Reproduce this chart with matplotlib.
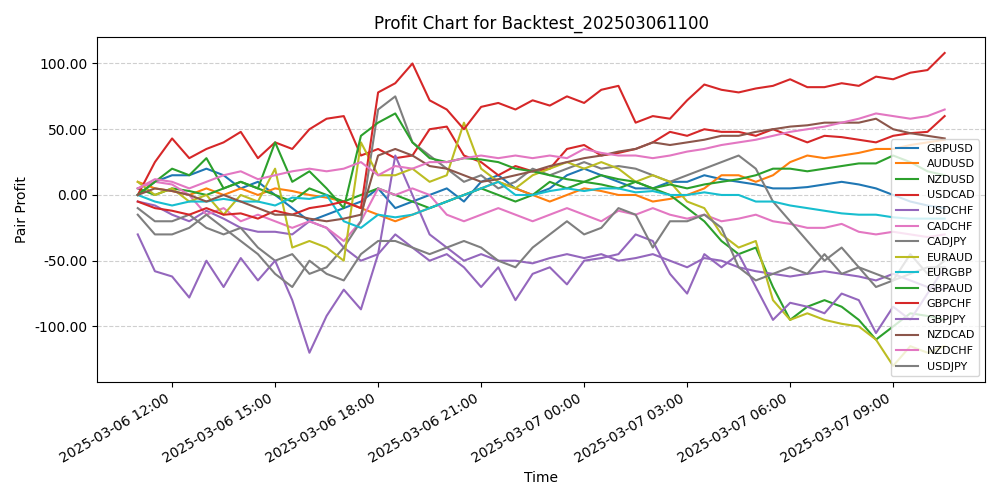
import pandas as pd
import matplotlib
matplotlib.use("Agg")
import matplotlib.pyplot as plt
import matplotlib.dates as mdates
from matplotlib.ticker import FormatStrFormatter

times = pd.date_range("2025-03-06 11:00", periods=48, freq="30min")

GBPUSD = [0,10,15,15,20,15,5,10,0,-10,-20,-15,-10,-5,5,-10,-5,0,5,-5,10,15,5,0,5,15,20,15,10,5,5,10,10,15,12,10,8,5,5,6,8,10,8,5,0,-5,-8,-10]
AUDUSD = [10,5,3,0,5,0,5,0,5,3,0,-2,-5,-10,-15,-20,-15,-10,-5,0,5,10,5,0,-5,0,5,3,0,0,-5,-3,0,5,15,15,10,15,25,30,28,30,32,35,35,38,40,42]
NZDUSD = [5,0,5,3,0,5,10,5,0,-5,5,0,-5,0,5,0,-5,-10,-5,0,5,0,-5,0,10,5,10,8,5,10,5,0,-10,-20,-35,-45,-40,-70,-95,-85,-80,-85,-95,-110,-100,-90,-92,-95]
USDCAD = [0,25,43,28,35,40,48,28,40,35,50,58,60,30,35,28,30,50,52,30,25,15,22,18,20,35,38,30,32,35,40,48,45,50,48,48,45,50,45,40,45,44,42,40,45,47,48,60]
USDCHF = [-5,-8,-15,-20,-12,-18,-25,-28,-28,-30,-20,-25,-40,-50,-45,30,0,-30,-40,-50,-45,-50,-50,-52,-48,-45,-48,-45,-50,-48,-45,-50,-55,-48,-50,-55,-58,-60,-62,-60,-58,-60,-62,-65,-60,-65,-70,-72]
CADCHF = [5,10,8,0,-15,-10,-20,-15,-20,-25,-20,-25,-35,-20,5,0,5,0,-15,-20,-15,-10,-15,-20,-15,-10,-15,-20,-12,-15,-10,-15,-18,-15,-20,-18,-15,-20,-22,-25,-25,-22,-28,-30,-28,-30,-32,-30]
CADJPY = [-10,-20,-20,-15,-25,-30,-25,-40,-50,-45,-60,-55,-40,-20,65,75,40,30,20,10,15,5,10,20,15,20,25,20,22,20,15,10,15,20,25,30,20,-5,-20,-35,-50,-40,-55,-60,-65,-45,-60,-50]
EURAUD = [10,0,5,-5,0,-15,0,-5,20,-40,-35,-40,-50,40,15,15,20,10,15,55,20,10,5,15,20,25,20,25,20,10,15,10,-5,-10,-30,-40,-35,-80,-95,-90,-95,-98,-100,-110,-130,-115,-120,-115]
EURGBP = [0,-5,-8,-5,-5,-3,-5,-5,-8,-2,-3,0,-20,-25,-15,-17,-15,-10,-5,0,5,10,0,0,3,5,3,5,5,2,3,0,0,2,0,0,-5,-5,-8,-10,-12,-14,-15,-15,-17,-18,-18,-18]
GBPAUD = [0,10,20,15,28,5,10,5,40,10,18,5,-10,45,55,62,40,28,25,28,27,25,20,18,15,12,10,15,12,10,5,8,5,8,10,12,15,20,20,18,20,22,24,24,30,25,18,15]
GBPCHF = [-5,-10,-12,-15,-10,-15,-14,-18,-12,-15,-10,-8,-5,-10,78,85,100,72,65,50,67,70,65,72,68,75,70,80,83,55,60,58,72,84,80,78,81,83,88,82,82,85,83,90,88,93,95,108]
GBPJPY = [-30,-58,-62,-78,-50,-70,-48,-65,-50,-80,-120,-92,-72,-87,-45,-30,-40,-50,-45,-55,-70,-55,-80,-60,-55,-68,-50,-48,-45,-30,-35,-60,-75,-45,-55,-45,-70,-95,-82,-85,-90,-75,-80,-105,-85,-95,-75,-55]
NZDCAD = [0,5,3,0,-5,0,-5,-10,-15,-15,-18,-20,-18,-15,30,35,30,22,20,15,10,12,15,18,22,25,28,30,33,35,40,38,40,42,45,45,48,50,52,53,55,55,55,58,50,47,45,43]
NZDCHF = [5,12,10,5,10,15,18,12,15,18,20,18,20,25,15,22,20,25,25,28,30,28,30,28,30,28,35,32,30,30,28,30,33,35,38,40,42,45,48,50,52,55,58,62,60,58,60,65]
USDJPY = [-15,-30,-30,-25,-15,-25,-35,-45,-60,-70,-50,-60,-65,-45,-35,-35,-40,-45,-40,-35,-40,-50,-55,-40,-30,-20,-30,-25,-10,-15,-40,-20,-20,-15,-25,-55,-65,-60,-55,-60,-45,-60,-55,-70,-65,-60,-55,-55]

pairs = ["GBPUSD", "AUDUSD", "NZDUSD", "USDCAD", "USDCHF", "CADCHF", "CADJPY", "EURAUD",
         "EURGBP", "GBPAUD", "GBPCHF", "GBPJPY", "NZDCAD", "NZDCHF", "USDJPY"]
series = [GBPUSD, AUDUSD, NZDUSD, USDCAD, USDCHF, CADCHF, CADJPY, EURAUD,
          EURGBP, GBPAUD, GBPCHF, GBPJPY, NZDCAD, NZDCHF, USDJPY]
colors = ["tab:blue", "tab:orange", "tab:green", "tab:red", "tab:purple", "tab:pink", "tab:gray", "tab:olive",
          "tab:cyan", "tab:green", "tab:red", "tab:purple", "tab:brown", "tab:pink", "tab:gray"]

fig, ax = plt.subplots(figsize=(10, 5), dpi=100)
for name, vals, c in zip(pairs, series, colors):
    ax.plot(times, vals, label=name, color=c, linewidth=1.5)

ax.set_title("Profit Chart for Backtest_202503061100")
ax.set_xlabel("Time")
ax.set_ylabel("Pair Profit")
ax.yaxis.set_major_formatter(FormatStrFormatter("%.2f"))
ax.xaxis.set_major_locator(mdates.HourLocator(byhour=range(0, 24, 3)))
ax.xaxis.set_major_formatter(mdates.DateFormatter("%Y-%m-%d %H:%M"))
ax.grid(axis="y", linestyle="--", alpha=0.6)
ax.legend(loc="lower right", fontsize=8)
fig.autofmt_xdate()
plt.tight_layout()
plt.savefig("out.png")
